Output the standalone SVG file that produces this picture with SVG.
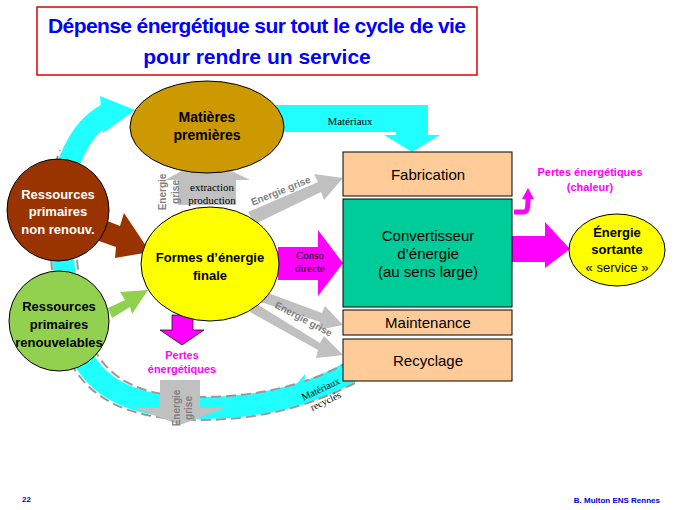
<svg xmlns="http://www.w3.org/2000/svg" width="680" height="510" viewBox="0 0 680 510">
<style>
.b{font-family:"Liberation Sans",Arial,sans-serif;font-weight:bold}
.s{font-family:"Liberation Serif","Times New Roman",serif}
.box{stroke:#000;stroke-width:1}
.gr{fill:#C0C0C0}
.gt{font-family:"Liberation Sans",Arial,sans-serif;font-weight:bold;font-size:10px;fill:#808080}
</style>
<rect width="680" height="510" fill="#fff"/>
<g id="title">
<rect x="37" y="7" width="440" height="68" fill="#fff" stroke="#E00000" stroke-width="1.5"/>
<text x="257" y="33" text-anchor="middle" class="b" font-size="21" textLength="418" fill="#0000FF">Dépense énergétique sur tout le cycle de vie</text>
<text x="257" y="64" text-anchor="middle" class="b" font-size="21" fill="#0000FF">pour rendre un service</text>
</g>
<g id="connectors">
<path d="M350,372 C310,395 260,408 200,408 C120,408 80,380 70,320 C62,260 55,200 70,160 C80,135 95,118 112,112" fill="none" stroke="#1FFFFF" stroke-width="22"/>
<path d="M350,361 C310,384 260,397 200,397 C130,397 95,372 84,320 C76,260 70,200 80,165" fill="none" stroke="#999" stroke-width="2" stroke-dasharray="10,5"/>
<path d="M355,383 C310,406 260,420 200,420 C115,420 68,390 57,320 C50,260 44,190 60,150" fill="none" stroke="#999" stroke-width="2" stroke-dasharray="10,5"/>
<polygon points="100,96 135,110 103,133" fill="#1FFFFF"/>
<polygon points="305,374 290,392 303,405" fill="#1FFFFF"/>
<text transform="translate(322,392) rotate(-25)" text-anchor="middle" class="s" font-size="10">Matériaux</text>
<text transform="translate(327,404) rotate(-25)" text-anchor="middle" class="s" font-size="10">recyclés</text>
<polygon points="240,105 428,105 428,135 440,135 412,152 384,135 396,135 396,132 240,132" fill="#1FFFFF"/>
<text x="350" y="125" text-anchor="middle" class="s" font-size="11">Matériaux</text>
<polygon points="178,205 178,180 165,180 205,158 250,180 236,180 236,205" class="gr"/>
<text transform="translate(166,192) rotate(-90)" text-anchor="middle" class="gt">Energie</text>
<text transform="translate(179,192) rotate(-90)" text-anchor="middle" class="gt">grise</text>
<text x="212" y="191" text-anchor="middle" class="s" font-size="11">extraction</text>
<text x="212" y="204" text-anchor="middle" class="s" font-size="11">production</text>
<polygon points="248,212 318,182 314,174 343,178 324,200 321,192 255,224" class="gr"/>
<text transform="translate(282,194) rotate(-22)" text-anchor="middle" class="gt">Energie grise</text>
<polygon points="260,290 322,313 325,306 343,325 318,330 320,322 255,300" class="gr"/>
<polygon points="255,303 320,343 324,336 343,355 316,358 318,350 250,312" class="gr"/>
<text transform="translate(302,322) rotate(28)" text-anchor="middle" class="gt">Energie grise</text>
<polygon points="160,380 200,380 200,408 225,408 180,425 135,408 160,408" class="gr"/>
<text transform="translate(180,408) rotate(-90)" text-anchor="middle" class="gt">Energie</text>
<text transform="translate(192,408) rotate(-90)" text-anchor="middle" class="gt">grise</text>
<polygon points="100,218 120,226 124,213 150,252 115,258 116,247 96,240" fill="#993300"/>
<polygon points="108,308 125,300 120,292 148,290 132,314 130,307 112,318" fill="#92D050"/>
<polygon points="278,247 318,247 318,230 343,263 318,296 318,280 278,280" fill="#FF00FF"/>
<text x="310" y="259" text-anchor="middle" class="s" font-size="11">Conso</text>
<text x="310" y="272" text-anchor="middle" class="s" font-size="11">directe</text>
<polygon points="512,236 545,236 545,222 570,249 545,268 545,262 512,262" fill="#FF00FF"/>
<path d="M514,212 L524,212 C528,212 528,205 528,198" fill="none" stroke="#FF00FF" stroke-width="5"/>
<polygon points="522,199 534,199 528,188" fill="#FF00FF"/>
<polygon points="172,315 193,315 193,330 204,330 182,345 160,330 172,330" fill="#FF00FF" stroke="#000" stroke-width="0.7"/>
</g>
<g id="matieres">
<ellipse cx="207" cy="127" rx="77" ry="46" fill="#CC9900" class="box"/>
<text x="207" y="122" text-anchor="middle" class="b" font-size="14">Matières</text>
<text x="207" y="140" text-anchor="middle" class="b" font-size="14">premières</text>
</g>
<g id="fabrication">
<rect x="343" y="152" width="169" height="44" fill="#FFCC99" class="box"/>
<text x="428" y="180" text-anchor="middle" font-family="Liberation Sans,Arial,sans-serif" font-size="15">Fabrication</text>
</g>
<g id="convertisseur">
<rect x="343" y="199" width="169" height="108" fill="#00CC99" class="box"/>
<text x="428" y="241" text-anchor="middle" font-family="Liberation Sans,Arial,sans-serif" font-size="15">Convertisseur</text>
<text x="428" y="259" text-anchor="middle" font-family="Liberation Sans,Arial,sans-serif" font-size="15">d’énergie</text>
<text x="428" y="277" text-anchor="middle" font-family="Liberation Sans,Arial,sans-serif" font-size="15">(au sens large)</text>
</g>
<g id="maintenance">
<rect x="343" y="310" width="169" height="25" fill="#FFCC99" class="box"/>
<text x="428" y="328" text-anchor="middle" font-family="Liberation Sans,Arial,sans-serif" font-size="15">Maintenance</text>
</g>
<g id="recyclage">
<rect x="343" y="339" width="169" height="42" fill="#FFCC99" class="box"/>
<text x="428" y="366" text-anchor="middle" font-family="Liberation Sans,Arial,sans-serif" font-size="15">Recyclage</text>
</g>
<g id="nonrenouv">
<circle cx="58" cy="210" r="51" fill="#993300" class="box"/>
<text x="58" y="199" text-anchor="middle" class="b" font-size="13" fill="#fff">Ressources</text>
<text x="58" y="216" text-anchor="middle" class="b" font-size="13" fill="#fff">primaires</text>
<text x="58" y="234" text-anchor="middle" class="b" font-size="13" fill="#fff">non renouv.</text>
</g>
<g id="renouv">
<circle cx="59" cy="321" r="50" fill="#92D050" class="box"/>
<text x="59" y="311" text-anchor="middle" class="b" font-size="13">Ressources</text>
<text x="59" y="329" text-anchor="middle" class="b" font-size="13">primaires</text>
<text x="59" y="347" text-anchor="middle" class="b" font-size="13">renouvelables</text>
</g>
<g id="formes">
<ellipse cx="210" cy="264" rx="69" ry="57" fill="#FFFF00" class="box"/>
<text x="210" y="262" text-anchor="middle" class="b" font-size="13">Formes d’énergie</text>
<text x="210" y="280" text-anchor="middle" class="b" font-size="13">finale</text>
</g>
<g id="sortante">
<ellipse cx="617" cy="250" rx="48" ry="36" fill="#FFFF00" class="box"/>
<text x="617" y="237" text-anchor="middle" class="b" font-size="13">Énergie</text>
<text x="617" y="254" text-anchor="middle" class="b" font-size="13">sortante</text>
<text x="617" y="272" text-anchor="middle" font-family="Liberation Sans,Arial,sans-serif" font-size="13">« service »</text>
</g>
<g id="labels">
<text x="590" y="176" text-anchor="middle" class="b" font-size="11" fill="#FF00FF">Pertes énergétiques</text>
<text x="590" y="191" text-anchor="middle" class="b" font-size="11" fill="#FF00FF">(chaleur)</text>
<text x="182" y="359" text-anchor="middle" class="b" font-size="11" fill="#FF00FF">Pertes</text>
<text x="182" y="373" text-anchor="middle" class="b" font-size="11" fill="#FF00FF">énergétiques</text>
<text x="22" y="502" class="b" font-size="8" fill="#0000CC">22</text>
<text x="660" y="503" text-anchor="end" class="b" font-size="8" fill="#0000CC">B. Multon ENS Rennes</text>
</g>
</svg>
